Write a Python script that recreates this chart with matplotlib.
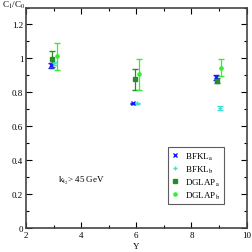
import matplotlib
matplotlib.use('Agg')
import matplotlib.pyplot as plt
from matplotlib.ticker import MultipleLocator
from matplotlib.lines import Line2D

plt.rcParams['font.family'] = 'Liberation Serif'
plt.rcParams['mathtext.fontset'] = 'stix'

# data
y_bfkl_a = [2.89, 5.89, 8.88]
c_bfkl_a = [0.96, 0.735, 0.888]
e_bfkl_a = [0.015, 0.004, 0.016]

y_bfkl_b = [3.0, 6.04, 9.03]
c_bfkl_b = [0.97, 0.735, 0.708]
e_bfkl_b = [0.01, 0.004, 0.01]

y_dglap_a = [2.95, 5.94, 8.94]
c_dglap_a = [0.994, 0.876, 0.869]
e_dglap_a = [0.047, 0.06, 0.017]

y_dglap_b = [3.11, 6.11, 9.08]
c_dglap_b = [1.013, 0.906, 0.945]
e_dglap_b = [0.08, 0.09, 0.05]

labels = [r'BFKL$_{\rm a}$', r'BFKL$_{\rm b}$', r'DGLAP$_{\rm a}$', r'DGLAP$_{\rm b}$']
colors = ['#1a1aff', '#40e0d0', '#2a8a2a', '#33ee33']
markers = ['x', '+', 's', 'o']

fig = plt.figure(figsize=(2.52, 2.53), dpi=100)
ax = fig.add_axes([26/252, 1 - 229/253, (246.5 - 26)/252, (229 - 8.5)/253])

series = [(y_bfkl_a, c_bfkl_a, e_bfkl_a), (y_bfkl_b, c_bfkl_b, e_bfkl_b),
          (y_dglap_a, c_dglap_a, e_dglap_a), (y_dglap_b, c_dglap_b, e_dglap_b)]
for (xs, ys, es), col, m in zip(series, colors, markers):
    ax.errorbar(xs, ys, yerr=es, fmt=m, color=col, ms=2.3, mew=1,
                elinewidth=0.9, capsize=2, capthick=0.9)

ax.set_xlim(2, 10)
ax.set_ylim(0, 1.3)
ax.xaxis.set_major_locator(MultipleLocator(2))
ax.xaxis.set_minor_locator(MultipleLocator(1))
ax.yaxis.set_minor_locator(MultipleLocator(0.1))
ax.set_yticks([0, 0.2, 0.4, 0.6, 0.8, 1, 1.2])
ax.set_yticklabels(['0', '0.2', '0.4', '0.6', '0.8', '1', '1.2'])
ax.tick_params(which='both', direction='in', top=True, right=True, labelsize=6.5, pad=2)
ax.tick_params(which='major', length=4, width=0.8)
ax.tick_params(which='minor', length=2, width=0.8)
for s in ax.spines.values():
    s.set_linewidth(1.2)
    s.set_color('#444444')

ax.set_xlabel('Y', fontsize=6.5, labelpad=2)
fig.text(2/252, 1 - 5/253, r'C$_1$/C$_0$', fontsize=6.5, va='center', ha='left')
ax.text(3.15, 0.27, r'k$_{\rm t_2}$> 45 GeV', fontsize=6.5)

handles = [Line2D([], [], ls='none', marker=m, color=c, ms=2.3, mew=1) for m, c in zip(markers, colors)]
leg = ax.legend(handles, labels, loc='lower right', bbox_to_anchor=(0.897, 0.109), fontsize=6.5,
                frameon=True, fancybox=False, edgecolor='#333333', handlelength=1.0,
                handletextpad=0.6, borderpad=0.35, labelspacing=0.2, borderaxespad=0)
leg.get_frame().set_linewidth(0.8)

fig.savefig('out.png', dpi=100)
